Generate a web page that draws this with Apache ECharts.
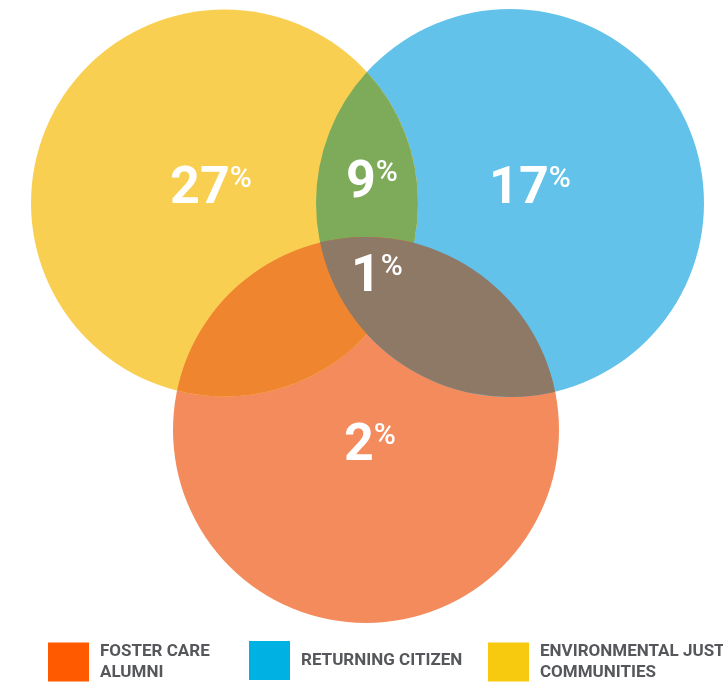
<!DOCTYPE html>
<html><head><meta charset="utf-8">
<script src="https://cdn.jsdelivr.net/npm/echarts@6/dist/echarts.min.js"></script>
<style>html,body{margin:0;padding:0;background:#fff}#c{width:723px;height:683px}</style>
</head><body><div id="c"></div>
<script>
// ---------------- data ----------------
const setKeys = ['F', 'R', 'E'];
const setNames = ['FOSTER CARE ALUMNI', 'RETURNING CITIZEN', 'ENVIRONMENTAL JUSTICE COMMUNITIES'];
const setLegendText = ['FOSTER CARE\nALUMNI', 'RETURNING CITIZEN', 'ENVIRONMENTAL JUSTICE\nCOMMUNITIES'];
const regionKeys = ['E', 'ER', 'R', 'ERF', 'F', 'EF', 'RF'];
const regionValues = [27, 9, 17, 1, 2, null, null];

// ---------------- layout & style (chart units = px) ----------------
const circleLayout = { E: [224.5, 203, 193.5], R: [510, 203, 194], F: [366, 430, 193] };
const labelAnchor = { E: [211, 190], ER: [372, 184], R: [530, 190], ERF: [377, 278], F: [370, 447] };
const circleColor = { E: '#F9CF52', R: '#63C2EA', F: '#F48B5C' };
const regionColor = { ER: '#7EAB5A', EF: '#EF852F', RF: '#8E7866', ERF: '#866240' };
const legendColor = { F: '#FF5A00', R: '#00B2E3', E: '#F7C90F' };
const legendLeft = [48, 249, 488];
const FONT = 'Roboto, "DejaVu Sans", sans-serif';

// ---------------- geometry helpers ----------------
function circlePx(api, key) {
  const c = circleLayout[key];
  const p = api.coord([c[0], c[1]]);
  const r = api.size([c[2], 0])[0];
  return { x: p[0], y: p[1], r: r };
}
function intersect(a, b) {
  const dx = b.x - a.x, dy = b.y - a.y, d = Math.hypot(dx, dy);
  const l = (a.r * a.r - b.r * b.r + d * d) / (2 * d);
  const h = Math.sqrt(Math.max(a.r * a.r - l * l, 0));
  const mx = a.x + dx * l / d, my = a.y + dy * l / d;
  return [[mx - h * dy / d, my + h * dx / d], [mx + h * dy / d, my - h * dx / d]];
}
function arcTo(c, from, to) {
  const cr = (from[0] - c.x) * (to[1] - c.y) - (from[1] - c.y) * (to[0] - c.x);
  return 'A ' + c.r + ' ' + c.r + ' 0 0 ' + (cr > 0 ? 1 : 0) + ' ' + to[0] + ' ' + to[1];
}
function lensPath(a, b) {
  const ps = intersect(a, b);
  return 'M ' + ps[0][0] + ' ' + ps[0][1] + ' ' + arcTo(a, ps[0], ps[1]) + ' ' + arcTo(b, ps[1], ps[0]) + ' Z';
}
function inside(p, c) { return Math.hypot(p[0] - c.x, p[1] - c.y) <= c.r + 0.5; }
function pickInside(a, b, c) { const ps = intersect(a, b); return inside(ps[0], c) ? ps[0] : ps[1]; }
function triplePath(E, R, F) {
  const vER = pickInside(E, R, F), vEF = pickInside(E, F, R), vRF = pickInside(R, F, E);
  return 'M ' + vER[0] + ' ' + vER[1] + ' ' + arcTo(E, vER, vEF) + ' ' + arcTo(F, vEF, vRF) + ' ' + arcTo(R, vRF, vER) + ' Z';
}

// ---------------- series ----------------
const series = [];
setKeys.forEach(function (k, i) {
  series.push({
    type: 'custom', name: setNames[i], coordinateSystem: 'cartesian2d', z: 1,
    itemStyle: { color: legendColor[k] },
    data: [[circleLayout[k][0], circleLayout[k][1]]],
    renderItem: function (params, api) {
      const c = circlePx(api, k);
      return { type: 'circle', shape: { cx: c.x, cy: c.y, r: c.r }, style: { fill: circleColor[k] } };
    }
  });
});
const overlapKeys = regionKeys.filter(function (k) { return k.length > 1; });
series.push({
  type: 'custom', name: 'overlaps', coordinateSystem: 'cartesian2d', z: 2,
  data: overlapKeys.map(function (k) { return { name: k, value: [0, 0] }; }),
  renderItem: function (params, api) {
    const k = overlapKeys[params.dataIndex];
    const E = circlePx(api, 'E'), R = circlePx(api, 'R'), F = circlePx(api, 'F');
    const m = { E: E, R: R, F: F };
    const d = k.length === 3 ? triplePath(E, R, F) : lensPath(m[k[0]], m[k[1]]);
    return { type: 'path', shape: { pathData: d }, style: { fill: regionColor[k] } };
  }
});
const labelled = regionKeys.map(function (k, i) { return { k: k, v: regionValues[i] }; })
  .filter(function (o) { return o.v != null; });
series.push({
  type: 'custom', name: 'labels', coordinateSystem: 'cartesian2d', z: 3,
  data: labelled.map(function (o) { return [labelAnchor[o.k][0], labelAnchor[o.k][1], o.v]; }),
  renderItem: function (params, api) {
    const p = api.coord([api.value(0), api.value(1)]);
    return {
      type: 'text', x: p[0], y: p[1],
      style: {
        text: '{n|' + api.value(2) + '}{p|%}',
        align: 'center', verticalAlign: 'middle', fill: '#fff',
        rich: {
          n: { fontSize: 52, fontWeight: 'bold', fontFamily: FONT, fill: '#fff', lineHeight: 52 },
          p: { fontSize: 30, fontWeight: 500, fontFamily: FONT, fill: '#fff', lineHeight: 30, verticalAlign: 'top' }
        }
      }
    };
  }
});

const legends = setKeys.map(function (k, i) {
  return {
    left: legendLeft[i], top: 641, padding: 0, selectedMode: false,
    itemWidth: 41, itemHeight: 39, icon: 'rect',
    data: [{ name: setNames[i], itemStyle: { color: legendColor[k] } }],
    formatter: function () { return setLegendText[i]; },
    textStyle: { fontFamily: FONT, fontWeight: 'bold', fontSize: 17, color: '#55575A', lineHeight: 21, padding: [0, 0, 0, 6] }
  };
});

const chart = echarts.init(document.getElementById('c'), null, { renderer: 'canvas' });
chart.setOption({
  animation: false,
  backgroundColor: '#fff',
  grid: { left: 0, right: 0, top: 0, bottom: 0 },
  xAxis: { type: 'value', min: 0, max: 723, show: false },
  yAxis: { type: 'value', min: 0, max: 683, inverse: true, show: false },
  legend: legends,
  series: series
});
</script></body></html>
